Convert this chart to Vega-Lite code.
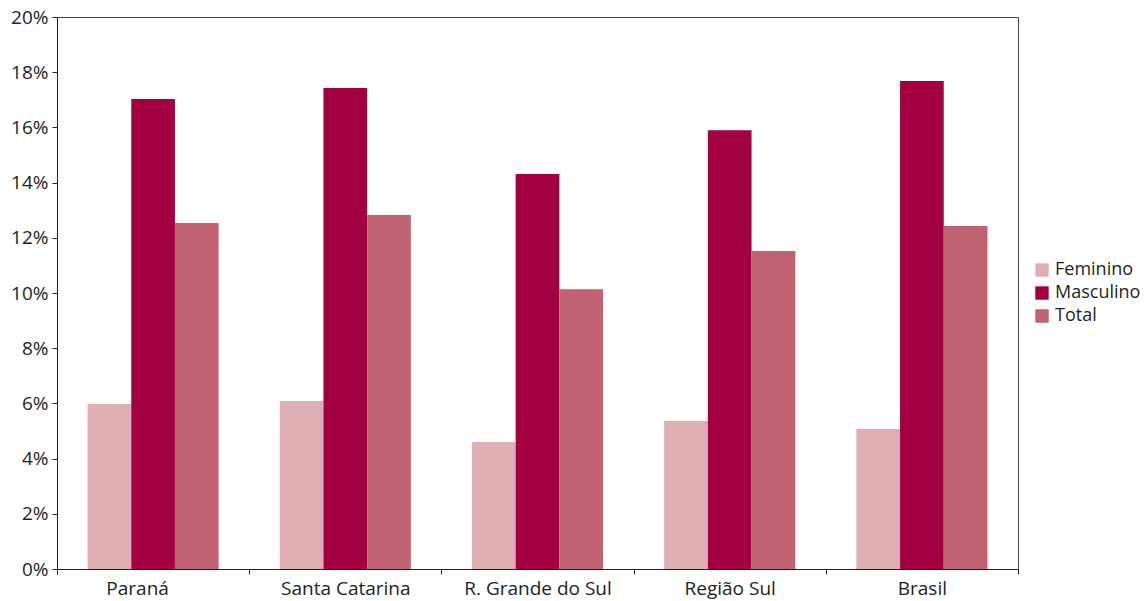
{
  "$schema": "https://vega.github.io/schema/vega-lite/v6.json",
  "width": 961,
  "height": 552,
  "autosize": {"type": "none"},
  "padding": {"left": 57, "top": 17, "right": 127, "bottom": 32},
  "background": "white",
  "config": {
    "view": {"stroke": "#444", "strokeWidth": 1},
    "font": "Open Sans"
  },
  "data": {
    "values": [
      {"regiao": "Paraná", "sexo": "Feminino", "valor": 0.0598},
      {"regiao": "Paraná", "sexo": "Masculino", "valor": 0.1703},
      {"regiao": "Paraná", "sexo": "Total", "valor": 0.1254},
      {"regiao": "Santa Catarina", "sexo": "Feminino", "valor": 0.0609},
      {"regiao": "Santa Catarina", "sexo": "Masculino", "valor": 0.1743},
      {"regiao": "Santa Catarina", "sexo": "Total", "valor": 0.1283},
      {"regiao": "R. Grande do Sul", "sexo": "Feminino", "valor": 0.046},
      {"regiao": "R. Grande do Sul", "sexo": "Masculino", "valor": 0.1431},
      {"regiao": "R. Grande do Sul", "sexo": "Total", "valor": 0.1014},
      {"regiao": "Região Sul", "sexo": "Feminino", "valor": 0.0536},
      {"regiao": "Região Sul", "sexo": "Masculino", "valor": 0.159},
      {"regiao": "Região Sul", "sexo": "Total", "valor": 0.1152},
      {"regiao": "Brasil", "sexo": "Feminino", "valor": 0.0507},
      {"regiao": "Brasil", "sexo": "Masculino", "valor": 0.1768},
      {"regiao": "Brasil", "sexo": "Total", "valor": 0.1243}
    ]
  },
  "mark": {"type": "bar"},
  "encoding": {
    "x": {
      "field": "regiao",
      "type": "nominal",
      "sort": null,
      "title": null,
      "scale": {"paddingInner": 0, "paddingOuter": 0},
      "axis": {
        "labelAngle": 0,
        "labelFontSize": 19,
        "labelColor": "#231f20",
        "labelPadding": 5,
        "domainColor": "#231f20",
        "tickColor": "#231f20",
        "tickBand": "extent",
        "tickSize": 5,
        "labelOffset": {"condition": {"test": "datum.value === 'Paraná'", "value": -16}, "value": 0}
      }
    },
    "xOffset": {"field": "sexo", "type": "nominal", "sort": ["Feminino", "Masculino", "Total"], "scale": {"paddingInner": 0, "paddingOuter": 0.7}},
    "y": {
      "field": "valor",
      "type": "quantitative",
      "title": null,
      "scale": {"domain": [0, 0.2], "nice": false},
      "axis": {
        "values": [0, 0.02, 0.04, 0.06, 0.08, 0.1, 0.12, 0.14, 0.16, 0.18, 0.2],
        "format": ".0%",
        "grid": false,
        "labelFontSize": 19,
        "labelColor": "#231f20",
        "labelPadding": 4,
        "domainColor": "#231f20",
        "tickColor": "#231f20",
        "tickSize": 5
      }
    },
    "color": {
      "field": "sexo",
      "type": "nominal",
      "sort": ["Feminino", "Masculino", "Total"],
      "scale": {"domain": ["Feminino", "Masculino", "Total"], "range": ["#DDAEB2", "#A30042", "#C06272"]},
      "legend": {
        "title": null,
        "orient": "none",
        "legendX": 976,
        "legendY": 244,
        "symbolType": "square",
        "symbolSize": 180,
        "symbolStrokeWidth": 0,
        "labelFontSize": 18,
        "labelColor": "#231f20",
        "rowPadding": 5,
        "labelOffset": 4
      }
    }
  }
}
